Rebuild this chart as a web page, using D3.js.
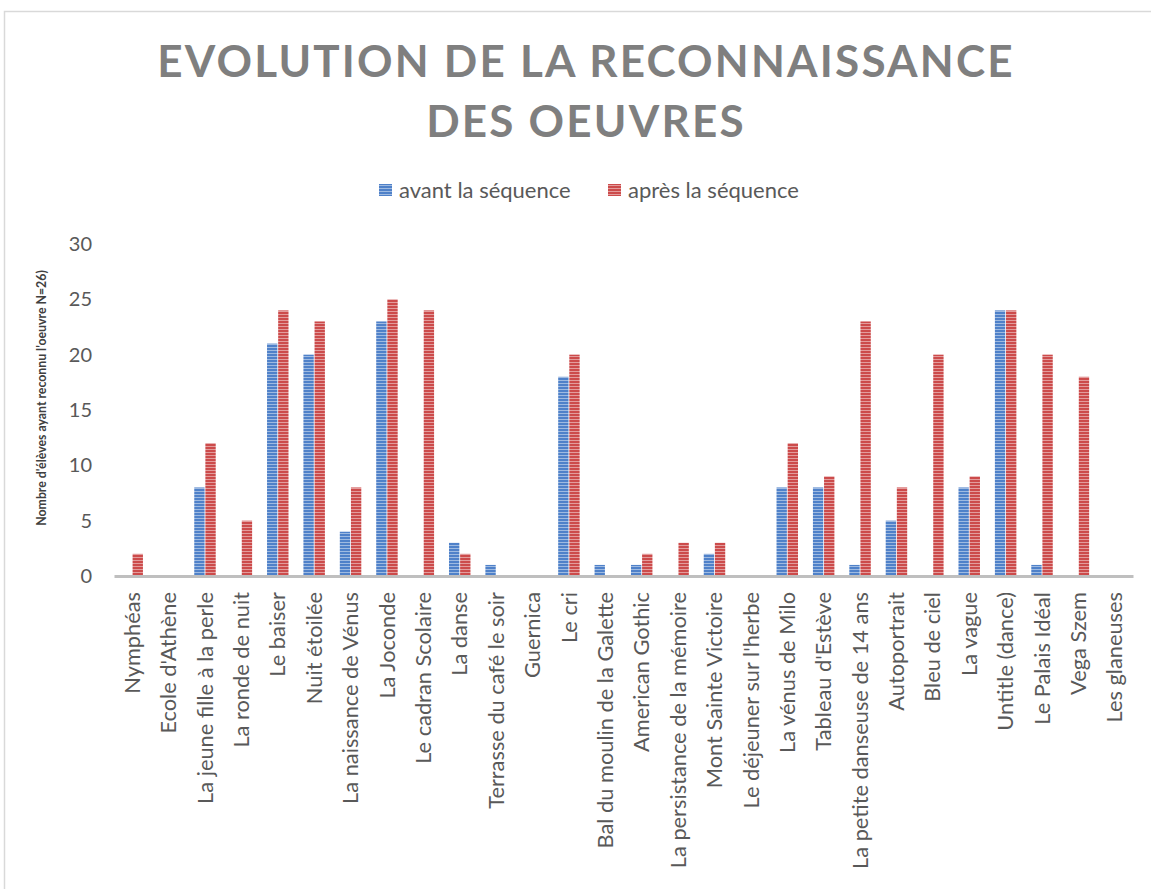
<!DOCTYPE html>
<html>
<head>
<meta charset="utf-8">
<script src="https://cdn.jsdelivr.net/npm/d3@7"></script>
<style>
  body { margin: 0; background: #fff; }
  text { font-family: Lato, "Open Sans", sans-serif; }
</style>
</head>
<body>
<div class="chart"></div>
<script>
'use strict';

var oeuvres = ['Nymphéas', "Ecole d'Athène", 'La jeune fille à la perle', 'La ronde de nuit', 'Le baiser',
  'Nuit étoilée', 'La naissance de Vénus', 'La Joconde', 'Le cadran Scolaire', 'La danse',
  'Terrasse du café le soir', 'Guernica', 'Le cri', 'Bal du moulin de la Galette', 'American Gothic',
  'La persistance de la mémoire', 'Mont Sainte Victoire', "Le déjeuner sur l'herbe", 'La vénus de Milo',
  "Tableau d'Estève", 'La petite danseuse de 14 ans', 'Autoportrait', 'Bleu de ciel', 'La vague',
  'Untitle (dance)', 'Le Palais Idéal', 'Vega Szem', 'Les glaneuses'];
var avant = [0, 0, 8, 0, 21, 20, 4, 23, 0, 3, 1, 0, 18, 1, 1, 0, 2, 0, 8, 8, 1, 5, 0, 8, 24, 1, 0, 0];
var apres = [2, 0, 12, 5, 24, 23, 8, 25, 24, 2, 0, 0, 20, 0, 2, 3, 3, 0, 12, 9, 23, 8, 20, 9, 24, 20, 18, 0];
var seriesNames = ['avant la séquence', 'après la séquence'];
var yTicks = [0, 5, 10, 15, 20, 25, 30];

var width = 1151;
var height = 889;
var plot = { left: 114, right: 1133, top: 244, bottom: 576 };

var svg = d3.select('.chart').append('svg').attr('width', width).attr('height', height);

// narrow horizontal stripe fills, like the Excel pattern
var colors = { 'avant la séquence': '#4f81c9', 'après la séquence': '#cc4b4b' };
var defs = svg.append('defs');
seriesNames.forEach(function (s, i) {
  var p = defs.append('pattern').attr('id', 'pat' + i).attr('patternUnits', 'userSpaceOnUse')
    .attr('width', 4).attr('height', 3);
  p.append('rect').attr('width', 4).attr('height', 3).attr('fill', colors[s]);
  p.append('rect').attr('y', 2).attr('width', 4).attr('height', 1).attr('fill', '#fff').attr('opacity', 0.45);
});

// chart border
svg.append('path').attr('d', 'M4.5,' + height + 'V11.5H' + width)
  .attr('fill', 'none').attr('stroke', '#d9d9d9').attr('stroke-width', 1.5);

// title
var titleLines = ['EVOLUTION DE LA RECONNAISSANCE', 'DES OEUVRES'];
var title = svg.append('g').attr('class', 'title');
titleLines.forEach(function (t, i) {
  title.append('text').attr('x', 586).attr('y', 77 + i * 60)
    .attr('text-anchor', 'middle').attr('fill', '#7f7f7f')
    .style('font-size', '44px').style('font-weight', 'bold').style('letter-spacing', '2.2px')
    .text(t);
});

// legend
var legendX = [379, 608];
var legend = svg.append('g').attr('class', 'legend');
seriesNames.forEach(function (s, i) {
  legend.append('rect').attr('x', legendX[i]).attr('y', 184).attr('width', 13).attr('height', 12)
    .attr('fill', 'url(#pat' + i + ')');
  legend.append('text').attr('x', legendX[i] + 20).attr('y', 198)
    .attr('fill', '#595959').style('font-size', '22px').text(s);
});

var x = d3.scaleBand().domain(oeuvres).range([plot.left, plot.right]).paddingInner(0.41).paddingOuter(0.205);
var x1 = d3.scaleBand().domain(seriesNames).range([0, x.bandwidth()]).paddingInner(0.07);
var y = d3.scaleLinear().domain([0, 30]).range([plot.bottom, plot.top]);

// y axis (labels only)
var yAxis = d3.axisLeft(y).tickValues(yTicks).tickSize(0).tickPadding(0);
var yG = svg.append('g').attr('transform', 'translate(92,0)').call(yAxis);
yG.select('.domain').remove();
yG.selectAll('text').attr('fill', '#595959').style('font-size', '20px').style('font-family', 'Lato, sans-serif');

svg.append('text').attr('transform', 'translate(46,' + 398 + ') rotate(-90)')
  .attr('text-anchor', 'middle').attr('fill', '#404040')
  .style('font-size', '12.3px').style('font-weight', 'bold')
  .text("Nombre d'élèves ayant  reconnu l'oeuvre N=26)");

// bars
var rows = oeuvres.map(function (o, i) {
  return { name: o, values: [{ s: seriesNames[0], v: avant[i], k: 0 }, { s: seriesNames[1], v: apres[i], k: 1 }] };
});
var groups = svg.append('g').attr('class', 'bars').selectAll('g').data(rows).join('g')
  .attr('transform', function (d) { return 'translate(' + x(d.name) + ',0)'; });
groups.selectAll('rect').data(function (d) { return d.values.filter(function (e) { return e.v > 0; }); }).join('rect')
  .attr('x', function (d) { return x1(d.s); })
  .attr('y', function (d) { return y(d.v); })
  .attr('width', x1.bandwidth())
  .attr('height', function (d) { return y(0) - y(d.v); })
  .attr('fill', function (d) { return 'url(#pat' + d.k + ')'; });

// x axis
var xAxis = d3.axisBottom(x).tickSize(0).tickPadding(0);
var xG = svg.append('g').attr('transform', 'translate(0,' + plot.bottom + ')').call(xAxis);
xG.select('.domain').attr('stroke', '#bfbfbf').attr('stroke-width', 3);
xG.selectAll('text')
  .attr('transform', 'rotate(-90)')
  .attr('x', -16).attr('y', 0).attr('dy', '0.35em')
  .attr('text-anchor', 'end').attr('fill', '#595959')
  .style('font-size', '21.8px').style('font-family', 'Lato, sans-serif');
</script>
</body>
</html>
